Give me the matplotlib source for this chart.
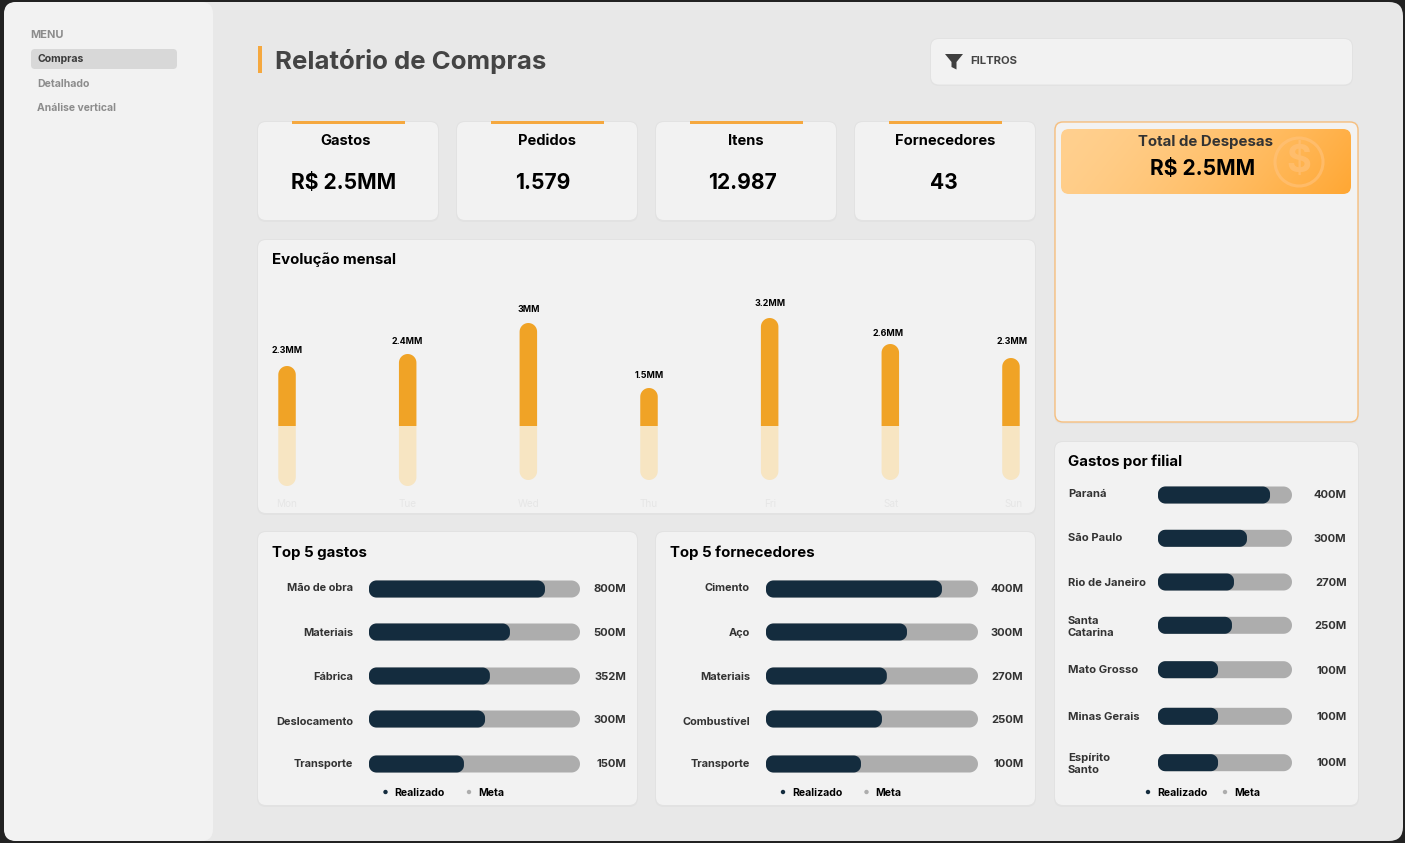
import matplotlib
matplotlib.use("Agg")
import matplotlib.pyplot as plt
import numpy as np
from matplotlib.patches import FancyBboxPatch, Rectangle, Circle, Polygon

W, H = 1405, 843
ORANGE = "#f0a326"
PALE = "#f7e5c2"
NAVY = "#142c3e"
GREY = "#adadad"
CARD = "#f2f2f2"

plt.rcParams["font.family"] = ["Inter", "Lato", "DejaVu Sans"]

# dados
kpi_titles = ["Gastos", "Pedidos", "Itens", "Fornecedores"]
kpi_values = ["R$ 2.5MM", "1.579", "12.987", "43"]

days = ["Mon", "Tue", "Wed", "Thu", "Fri", "Sat", "Sun"]
month_labels = ["2.3MM", "2.4MM", "3MM", "1.5MM", "3.2MM", "2.6MM", "2.3MM"]
month_up = [60, 72, 103, 38, 108, 82, 68]
month_down = [60, 60, 54, 54, 54, 54, 54]

gastos_names = ["Mão de obra", "Materiais", "Fábrica", "Deslocamento", "Transporte"]
gastos_pct = [0.834, 0.668, 0.573, 0.55, 0.45]
gastos_labels = ["800M", "500M", "352M", "300M", "150M"]

forn_names = ["Cimento", "Aço", "Materiais", "Combustível", "Transporte"]
forn_pct = [0.83, 0.665, 0.57, 0.547, 0.448]
forn_labels = ["400M", "300M", "270M", "250M", "100M"]

filial_names = ["Paraná", "São Paulo", "Rio de Janeiro", "Santa\nCatarina",
                "Mato Grosso", "Minas Gerais", "Espírito\nSanto"]
filial_pct = [0.836, 0.664, 0.567, 0.552, 0.448, 0.448, 0.448]
filial_labels = ["400M", "300M", "270M", "250M", "100M", "100M", "100M"]


def px(size):
    return size * 0.72


def px_axes(x0, y0, x1, y1):
    a = fig.add_axes([x0 / W, 1 - y1 / H, (x1 - x0) / W, (y1 - y0) / H])
    a.patch.set_visible(False)
    for s in a.spines.values():
        s.set_visible(False)
    a.tick_params(length=0)
    a.set_xticks([])
    a.set_yticks([])
    return a


def box(x0, y0, x1, y1, r, fc, ec="none", lw=0, z=1):
    p = FancyBboxPatch((x0, y0), x1 - x0, y1 - y0, boxstyle=f"round,pad=0,rounding_size={r}",
                       fc=fc, ec=ec, lw=lw, zorder=z)
    bg.add_patch(p)
    return p


def card(x0, y0, x1, y1, r=8, ec="none", lw=0):
    box(x0 - 1, y0 - 1, x1 + 1, y1 + 2, r + 1, "#e2e2e2")
    box(x0, y0, x1, y1, r, CARD, ec=ec, lw=lw, z=2)


def label(x, y, s, size, color="black", ha="left", weight="bold", **kw):
    bg.text(x, y + 1, s, fontsize=px(size), color=color, ha=ha, va="center", weight=weight, zorder=5, **kw)


def round_bar(a, x0, x1, y0, y1, rx, ry, fc, corners=(1, 1, 1, 1)):
    # cantos em arco de verdade; corners = (x0y0, x1y0, x1y1, x0y1), 0 deixa o canto reto
    t = np.linspace(0, np.pi / 2, 12)
    pts = []
    centers = [(x0 + rx, y0 + ry, np.pi), (x1 - rx, y0 + ry, 1.5 * np.pi),
               (x1 - rx, y1 - ry, 0), (x0 + rx, y1 - ry, 0.5 * np.pi)]
    sharp = [(x0, y0), (x1, y0), (x1, y1), (x0, y1)]
    for k, (cx, cy, start) in enumerate(centers):
        if corners[k]:
            pts += list(zip(cx + rx * np.cos(start + t), cy + ry * np.sin(start + t)))
        else:
            pts.append(sharp[k])
    a.add_patch(Polygon(pts, closed=True, fc=fc, ec="none", clip_on=False))


def hbars(x0, x1, rows, names, pct, labels, name_rows, value_rows, value_x, name_x=None, bar_h=17):
    # x0-x1 = trilho da barra; eixo y em pixels da figura
    top, bottom = rows[0] - 20, rows[-1] + 20
    a = px_axes(x0, top, x1, bottom)
    a.set_xlim(0, 1)
    a.set_ylim(bottom, top)
    width = x1 - x0
    ry = bar_h / 2
    for i in range(len(names)):
        y0, y1 = rows[i] - ry, rows[i] + ry
        round_bar(a, 0, 1, y0, y1, ry / width, ry, GREY)
        round_bar(a, 0, pct[i], y0, y1, ry * 0.85 / width, ry * 0.85, NAVY)
        a.annotate(labels[i], xy=(1, value_rows[i] + 1), xycoords=a.get_yaxis_transform(),
                   xytext=(px(value_x - x1), 0), textcoords="offset points",
                   ha="right", va="center", fontsize=px(11.2), weight="bold", color="#333333")
        if name_x is None:
            a.annotate(names[i], xy=(0, name_rows[i] + 1), xycoords=a.get_yaxis_transform(),
                       xytext=(px(-16), 0), textcoords="offset points",
                       ha="right", va="center", fontsize=px(11), weight="bold", color="#333333")
        else:
            a.annotate(names[i], xy=(0, name_rows[i] + 1), xycoords=a.get_yaxis_transform(),
                       xytext=(px(name_x - x0), 0), textcoords="offset points",
                       ha="left", va="center", fontsize=px(11.2), weight="bold", color="#333333",
                       linespacing=1.25)
    return a


def legend(x_dot1, x_dot2, y):
    bg.add_patch(Circle((x_dot1, y), 2.2, fc=NAVY, ec="none", zorder=5))
    label(x_dot1 + 9, y, "Realizado", 10.5)
    bg.add_patch(Circle((x_dot2, y), 2.2, fc=GREY, ec="none", zorder=5))
    label(x_dot2 + 9, y, "Meta", 10.5)


fig = plt.figure(figsize=(W / 100, H / 100), dpi=100, facecolor="#222222")
bg = fig.add_axes([0, 0, 1, 1])
bg.set_xlim(0, W)
bg.set_ylim(H, 0)
bg.axis("off")

# fundo e menu lateral
box(4, 2, 1403, 841, 14, "#e8e8e8", z=0)
box(4, 2, 213, 841, 12, "#f2f2f2", z=1)
box(31, 49, 177, 69, 4, "#d8d8d8", z=2)
label(30.5, 33.5, "MENU", 11, color="#8c8c8c")
label(37, 58, "Compras", 10.5, color="#3a3a3a")
label(37, 83, "Detalhado", 10.5, color="#8c8c8c")
label(37, 107, "Análise vertical", 10.4, color="#8c8c8c")

# cabeçalho
bg.add_patch(Rectangle((258, 46), 4, 27, fc="#f5a83f", ec="none", zorder=3))
label(275, 60, "Relatório de Compras", 25.8, color="#444444")
box(930, 38, 1353, 86, 9, "#e2e2e2", z=1)
box(931, 39, 1352, 84.5, 8, CARD, z=2)
bg.add_patch(Polygon([(945, 54), (963, 54), (956.5, 62), (956.5, 69.5), (951.5, 67), (951.5, 62)],
                     fc="#3f3f3f", ec="none", zorder=4))
label(970.5, 60, "FILTROS", 11.3, color="#444444")

# cards de indicadores
kpi_x = [258, 457, 656, 855]
kpi_title_x = [346, 547, 746, 945]
kpi_value_x = [344, 543, 742, 944]
for i in range(4):
    card(kpi_x[i], 122, kpi_x[i] + 180, 220)
    bg.add_patch(Rectangle((kpi_x[i] + 34, 121), 112.5, 3.2, fc="#f5a83f", ec="none", zorder=4))
    label(kpi_title_x[i], 139.7, kpi_titles[i], 14.7, ha="center")
    label(kpi_value_x[i], 182, kpi_values[i], 21, ha="center")

# evolução mensal
card(258, 240, 1035, 513)
label(272, 259, "Evolução mensal", 15)
ev = px_axes(226.7, 290, 1071.3, 512)
ev.set_xlim(-0.5, 6.5)
ev.set_ylim(-86, 136)
bw = 17.5 / 120.67
rx = bw / 2
for i in range(7):
    round_bar(ev, i - bw / 2, i + bw / 2, 0, month_up[i], rx, 8.75, ORANGE, corners=(0, 0, 1, 1))
    round_bar(ev, i - bw / 2, i + bw / 2, -month_down[i], 0, rx, 8.75, PALE, corners=(1, 1, 0, 0))
# ajuste fino dos rótulos sobre as barras, em px
label_dy = [16, 13, 14, 13, 14, 11, 17]
label_dx = [0, 0, 0, 0, 0, -2, 1]
day_dx = [0, 0, 0, 0, 0, 1, 3]
for i in range(7):
    ev.annotate(month_labels[i], xy=(i, month_up[i]), xytext=(px(label_dx[i]), px(label_dy[i])),
                textcoords="offset points", ha="center", va="center", fontsize=px(8.9),
                weight="bold", color="black")
    ev.annotate(days[i], xy=(i, -78), xytext=(px(day_dx[i]), 0), textcoords="offset points",
                ha="center", va="center", fontsize=px(10), color="#e6e6e6")

# top 5
top_rows = [589, 632, 676, 719, 764]
top_name_rows = [587, 632, 676, 721, 763]
top_value_rows = [588, 632, 676, 719, 763]
card(258, 532, 637, 805)
label(272, 552, "Top 5 gastos", 15)
hbars(369, 580, top_rows, gastos_names, gastos_pct, gastos_labels, top_name_rows, top_value_rows, 626)
legend(385.5, 469, 792)

card(656, 532, 1035, 805)
label(670, 552, "Top 5 fornecedores", 15)
hbars(766, 978, top_rows, forn_names, forn_pct, forn_labels, top_name_rows, top_value_rows, 1023.5)
legend(783, 866.5, 792)

# total de despesas
card(1055, 122, 1358, 422, ec="#f7bf7e", lw=1)
grad_box = box(1061, 129, 1351, 194, 8, "none", z=3)
xx, yy = np.meshgrid(np.linspace(0, 1, 300), np.linspace(0, 1, 70))
t = np.clip(xx * 0.85 + yy * 0.15, 0, 1)[..., None]
c0 = np.array(matplotlib.colors.to_rgb("#ffd08f"))
c1 = np.array(matplotlib.colors.to_rgb("#ffa733"))
img = bg.imshow(c0 + (c1 - c0) * t ** 1.5, extent=(1061, 1351, 194, 129), aspect="auto", zorder=3)
img.set_clip_path(grad_box)
bg.set_xlim(0, W)
bg.set_ylim(H, 0)
bg.add_patch(Circle((1299, 162), 24, fc="none", ec="#ffc27a", lw=2.2, zorder=4, alpha=0.65))
label(1299, 161, "$", 38, color="#ffc27a", ha="center", alpha=0.65)
label(1206, 140.7, "Total de Despesas", 15, color="#333333", ha="center")
label(1203, 168, "R$ 2.5MM", 21, ha="center")

# gastos por filial
filial_rows = [495, 538.3, 582, 625.3, 669.7, 716.3, 762.7]
filial_name_rows = [493.3, 537, 581.7, 625.5, 669.3, 716, 762.5]
filial_value_rows = [494.5, 538, 581.5, 625, 669.5, 716, 762.5]
card(1055, 442, 1358, 805)
label(1068, 461, "Gastos por filial", 15)
hbars(1158, 1292, filial_rows, filial_names, filial_pct, filial_labels,
      filial_name_rows, filial_value_rows, 1346.5, name_x=1068)
legend(1148, 1225, 792)

fig.savefig("out.png", dpi=100, facecolor=fig.get_facecolor())
